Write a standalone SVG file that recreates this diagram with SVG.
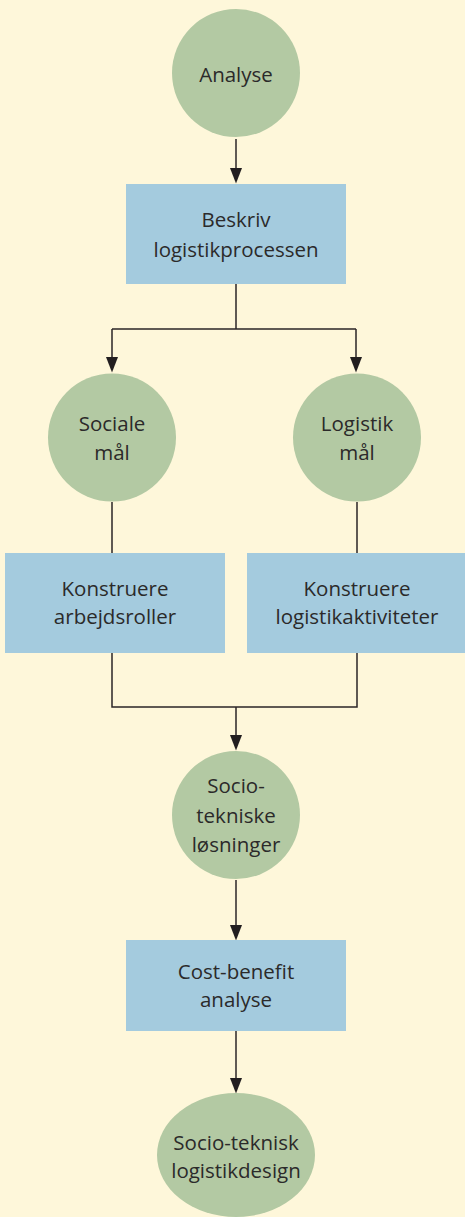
<svg xmlns="http://www.w3.org/2000/svg" width="465" height="1217" viewBox="0 0 465 1217">
<style>
.c{fill:#b3c9a3}
.b{fill:#a4cbde}
.t{font-family:"Open Sans","Liberation Sans",sans-serif;font-size:20.5px;fill:#2b2a2a;text-anchor:middle}
.e{fill:none;stroke:#2b2627;stroke-width:1.5}
.h{fill:#221e1f}
</style>
<rect width="465" height="1217" fill="#fef7da"/>
<g id="connectors">
<path class="e" d="M236 139 V168" />
<path class="h" d="M230 168 L242 168 L236 183.5 Z"/>
<path class="e" d="M236 284 V329 M112 329 H356 M112 329 V357 M356 329 V357"/>
<path class="h" d="M106 357 L118 357 L112 372.5 Z"/>
<path class="h" d="M350 357 L362 357 L356 372.5 Z"/>
<path class="e" d="M112 502 V553 M357 502 V553"/>
<path class="e" d="M112 653 V707 H357 V653 M236 707 V735"/>
<path class="h" d="M230 735 L242 735 L236 750.5 Z"/>
<path class="e" d="M236 880 V925"/>
<path class="h" d="M230 925 L242 925 L236 940.5 Z"/>
<path class="e" d="M236 1031 V1078"/>
<path class="h" d="M230 1078 L242 1078 L236 1093.5 Z"/>
</g>
<g id="analyse">
<circle class="c" cx="236" cy="73" r="64"/>
<text class="t" x="236" y="82">Analyse</text>
</g>
<g id="beskriv">
<rect class="b" x="126" y="184" width="220" height="100"/>
<text class="t" x="236" y="227">Beskriv</text>
<text class="t" x="236" y="257">logistikprocessen</text>
</g>
<g id="sociale">
<circle class="c" cx="112" cy="437.5" r="64"/>
<text class="t" x="112" y="431">Sociale</text>
<text class="t" x="112" y="460">mål</text>
</g>
<g id="logistik">
<circle class="c" cx="357" cy="437.5" r="64"/>
<text class="t" x="357" y="431">Logistik</text>
<text class="t" x="357" y="460">mål</text>
</g>
<g id="arbejdsroller">
<rect class="b" x="5" y="553" width="220" height="100"/>
<text class="t" x="115" y="596">Konstruere</text>
<text class="t" x="115" y="624">arbejdsroller</text>
</g>
<g id="logistikaktiviteter">
<rect class="b" x="247" y="553" width="220" height="100"/>
<text class="t" x="357" y="596">Konstruere</text>
<text class="t" x="357" y="624">logistikaktiviteter</text>
</g>
<g id="socioteknisk">
<circle class="c" cx="236" cy="815" r="64"/>
<text class="t" x="236" y="793">Socio-</text>
<text class="t" x="236" y="823">tekniske</text>
<text class="t" x="236" y="852">løsninger</text>
</g>
<g id="costbenefit">
<rect class="b" x="126" y="940" width="220" height="91"/>
<text class="t" x="236" y="979">Cost-benefit</text>
<text class="t" x="236" y="1007">analyse</text>
</g>
<g id="design">
<ellipse class="c" cx="236" cy="1155" rx="79" ry="62"/>
<text class="t" x="236" y="1150">Socio-teknisk</text>
<text class="t" x="236" y="1178">logistikdesign</text>
</g>
</svg>
